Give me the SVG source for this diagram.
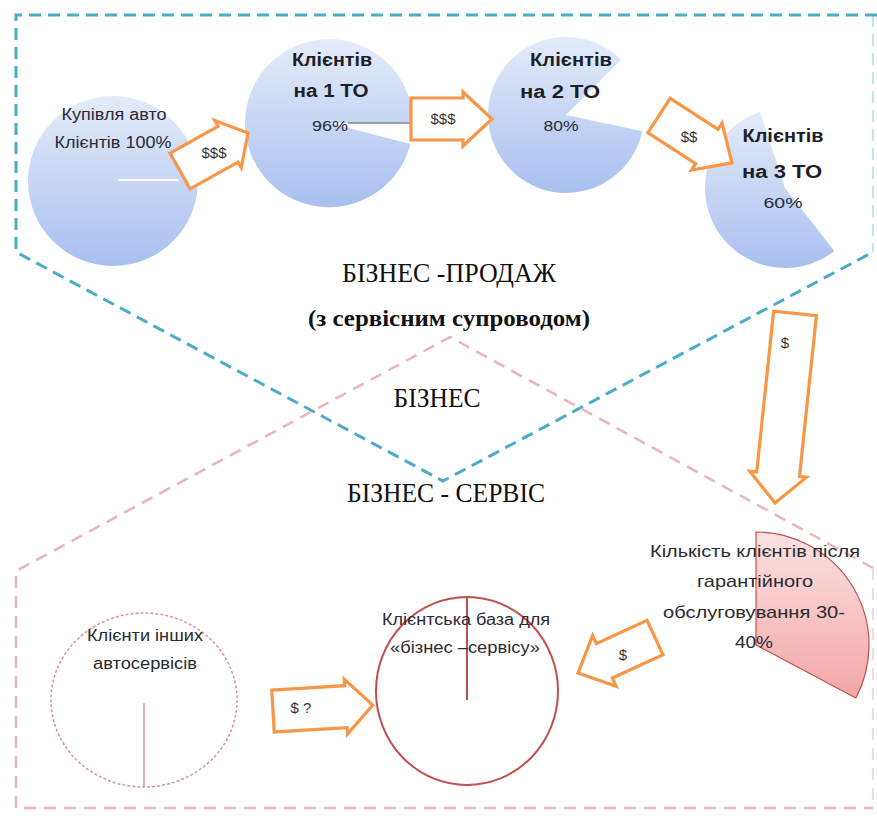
<svg xmlns="http://www.w3.org/2000/svg" width="877" height="818" viewBox="0 0 877 818">
<defs>
<linearGradient id="gBlue" x1="0" y1="0" x2="0" y2="1">
<stop offset="0" stop-color="#e4ecfa"/>
<stop offset="1" stop-color="#a8c0ef"/>
</linearGradient>
<linearGradient id="gPink" x1="0" y1="0" x2="0" y2="1">
<stop offset="0" stop-color="#fbe2e2"/>
<stop offset="1" stop-color="#f3a6a6"/>
</linearGradient>
<style>
.blue{fill:none;stroke:#4bacc6;stroke-width:3;stroke-dasharray:12 7}
.blueFaint{fill:none;stroke:#bfe6f0;stroke-width:2;stroke-dasharray:12 7}
.pink{fill:none;stroke:#e9b4bb;stroke-width:2.5;stroke-dasharray:12 8}
.pinkFaint{fill:none;stroke:#f4dde0;stroke-width:2;stroke-dasharray:12 8}
.pie{fill:url(#gBlue);stroke:none}
.arr{fill:#fff;stroke:#f79646;stroke-width:3.2;stroke-linejoin:miter}
.sans{font-family:"Liberation Sans",Arial,sans-serif;fill:#2a2a33;text-anchor:middle}
.b{font-weight:bold;fill:#1e1e28}
.serif{font-family:"Liberation Serif","DejaVu Serif","Times New Roman",serif;fill:#111;text-anchor:middle}
.alab{font-family:"Liberation Sans",Arial,sans-serif;fill:#333;font-size:15px;text-anchor:middle}
</style>
</defs>
<rect width="877" height="818" fill="#fff"/>

<g id="regions">
<path class="blueFaint" d="M873,15 V252"/>
<path class="blue" d="M877,15 H16 V252 L443,481 L873,252"/>
<path class="pinkFaint" d="M873,568 V808"/>
<path class="pink" d="M873,568 L450,337 L16,571 V808 H873"/>
</g>

<g id="pie-purchase">
<circle class="pie" cx="113" cy="181" r="85"/>
<line x1="118" y1="180" x2="178" y2="180" stroke="#fff" stroke-width="2"/>
<text class="sans" x="114" y="120" font-size="16" textLength="105" lengthAdjust="spacingAndGlyphs">Купівля авто</text>
<text class="sans" x="113" y="148" font-size="16" textLength="117" lengthAdjust="spacingAndGlyphs">Клієнтів 100%</text>
</g>

<g id="pie-to1">
<path class="pie" d="M329,123 L410.4,143.9 A84,84 0 1 1 413,123 Z"/>
<line x1="348" y1="123" x2="415" y2="123" stroke="#7d8f7d" stroke-width="1.5"/>
<text class="sans b" x="332" y="66" font-size="18" textLength="80" lengthAdjust="spacingAndGlyphs">Клієнтів</text>
<text class="sans b" x="331" y="97" font-size="18" textLength="75" lengthAdjust="spacingAndGlyphs">на 1 ТО</text>
<text class="sans" x="330" y="131" font-size="15" textLength="36" lengthAdjust="spacingAndGlyphs">96%</text>
</g>

<g id="pie-to2">
<path class="pie" d="M566,115 L642.3,131.2 A78,78 0 1 1 621.2,59.8 Z"/>
<text class="sans b" x="571" y="66" font-size="18" textLength="82" lengthAdjust="spacingAndGlyphs">Клієнтів</text>
<text class="sans b" x="560" y="98" font-size="18" textLength="80" lengthAdjust="spacingAndGlyphs">на 2 ТО</text>
<text class="sans" x="561" y="131" font-size="15" textLength="35" lengthAdjust="spacingAndGlyphs">80%</text>
</g>

<g id="pie-to3">
<path class="pie" d="M785,188 L834.3,251 A80,80 0 1 1 760,112 Z"/>
<text class="sans b" x="783" y="142" font-size="18" textLength="81" lengthAdjust="spacingAndGlyphs">Клієнтів</text>
<text class="sans b" x="782" y="178" font-size="18" textLength="80" lengthAdjust="spacingAndGlyphs">на 3 ТО</text>
<text class="sans" x="783" y="208" font-size="15" textLength="39" lengthAdjust="spacingAndGlyphs">60%</text>
</g>

<g id="label-sales">
<text class="serif" font-family="Liberation Serif, serif" x="449" y="282" font-size="27" textLength="214" lengthAdjust="spacingAndGlyphs">БІЗНЕС -ПРОДАЖ</text>
<text class="serif" font-family="Liberation Serif, serif" x="449" y="326" font-size="23" font-weight="bold" textLength="282" lengthAdjust="spacingAndGlyphs">(з сервісним супроводом)</text>
</g>
<g id="label-business">
<text class="serif" font-family="Liberation Serif, serif" x="437" y="407" font-size="27" textLength="87" lengthAdjust="spacingAndGlyphs">БІЗНЕС</text>
</g>
<g id="label-service">
<text class="serif" font-family="Liberation Serif, serif" x="446" y="502" font-size="27" textLength="198" lengthAdjust="spacingAndGlyphs">БІЗНЕС - СЕРВІС</text>
</g>

<g id="pie-after-warranty">
<path d="M756,645 L756,532 A113,113 0 0 1 855.8,698 Z" fill="url(#gPink)" stroke="#c0504d" stroke-width="1.2"/>
<text class="sans" x="755" y="557" font-size="17" textLength="210" lengthAdjust="spacingAndGlyphs">Кількість клієнтів після</text>
<text class="sans" x="755" y="587" font-size="17" textLength="116" lengthAdjust="spacingAndGlyphs">гарантійного</text>
<text class="sans" x="754" y="618" font-size="17" textLength="182" lengthAdjust="spacingAndGlyphs">обслуговування 30-</text>
<text class="sans" x="754" y="648" font-size="17" textLength="38" lengthAdjust="spacingAndGlyphs">40%</text>
</g>

<g id="other-services">
<ellipse cx="144" cy="700" rx="93" ry="87" fill="none" stroke="#d9939c" stroke-width="1.5" stroke-dasharray="3 2"/>
<line x1="144" y1="703" x2="144" y2="787" stroke="#d9939c" stroke-width="1.5"/>
<text class="sans" x="145" y="641" font-size="16" textLength="116" lengthAdjust="spacingAndGlyphs">Клієнти інших</text>
<text class="sans" x="145" y="669" font-size="16" textLength="104" lengthAdjust="spacingAndGlyphs">автосервісів</text>
</g>

<g id="client-base">
<ellipse cx="467" cy="691" rx="91" ry="94" fill="none" stroke="#c0504d" stroke-width="2"/>
<line x1="467" y1="597" x2="467" y2="700" stroke="#c0504d" stroke-width="2"/>
<text class="sans" x="466" y="625" font-size="16" textLength="168" lengthAdjust="spacingAndGlyphs">Клієнтська база для</text>
<text class="sans" x="465" y="653" font-size="16" textLength="150" lengthAdjust="spacingAndGlyphs">«бізнес –сервісу»</text>
</g>

<g id="connectors">
<polygon class="arr" transform="translate(180,171) rotate(-29.2)" points="0,-20.5 55,-20.5 55,-27 78,0 55,27 55,20.5 0,20.5"/>
<polygon class="arr" transform="translate(411,119) rotate(0)" points="0,-21 52,-21 52,-27 81,0 52,27 52,21 0,21"/>
<polygon class="arr" transform="translate(659,115.5) rotate(33)" points="0,-20.5 57,-20.5 57,-28 87,0 57,28 57,20.5 0,20.5"/>
<polygon class="arr" transform="translate(795,313.5) rotate(96)" points="0,-21.5 161.6,-21.5 161.6,-28.5 190.6,0 161.6,28.5 161.6,21.5 0,21.5"/>
<polygon class="arr" transform="translate(655,637.5) rotate(155.2)" points="0,-19 55.8,-19 55.8,-28 84.8,0 55.8,28 55.8,19 0,19"/>
<polygon class="arr" transform="translate(273,711) rotate(-3.4)" points="0,-21 73,-21 73,-27.5 100,0 73,27.5 73,21 0,21"/>
<text class="alab" x="214" y="158">$$$</text>
<text class="alab" x="443" y="124">$$$</text>
<text class="alab" x="689" y="142">$$</text>
<text class="alab" x="785" y="348">$</text>
<text class="alab" x="623" y="660">$</text>
<text class="alab" x="301" y="713">$ ?</text>
</g>
</svg>
